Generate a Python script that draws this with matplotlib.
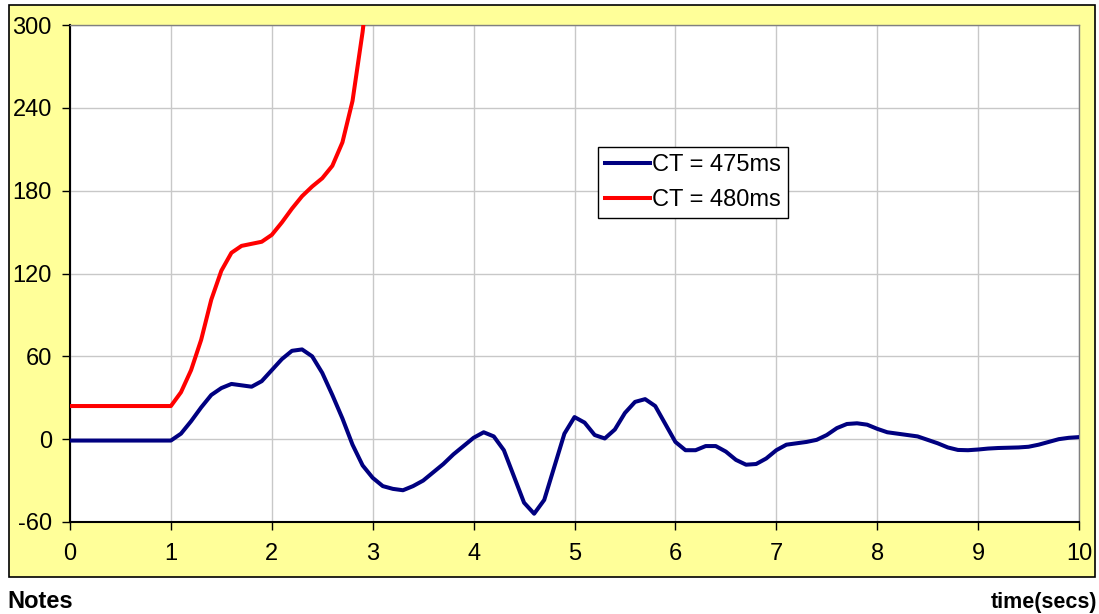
import matplotlib
matplotlib.use("Agg")
import matplotlib.pyplot as plt
from matplotlib.patches import Rectangle
import numpy as np

plt.rcParams['font.family'] = ['Liberation Sans', 'DejaVu Sans']
plt.rcParams['axes.unicode_minus'] = False

# time axis, 0.1 s steps
t = np.round(np.arange(0, 10.01, 0.1), 1)

# CT = 475ms (stable)
ct475 = [-1, -1, -1, -1, -1, -1, -1, -1, -1, -1, -1,
         4, 13, 23, 32, 37, 40, 39, 38, 42, 50,
         58, 64, 65, 60, 48, 32, 15, -4, -19, -28,
         -34, -36, -37, -34, -30, -24, -18, -11, -5, 1,
         5, 2, -8, -27, -46, -54, -44, -20, 4, 16,
         12, 3, 0.5, 7, 19, 27, 29, 24, 11, -2,
         -8, -8, -5, -5, -9, -15, -18.5, -18, -14, -8,
         -4, -3, -2, -0.5, 3, 8, 11, 11.5, 10.5, 7.5,
         5, 4, 3, 2, -0.5, -3, -6, -7.8, -8, -7.5,
         -6.8, -6.4, -6.2, -6, -5.5, -4, -2, 0, 1, 1.5]

# CT = 480ms (unstable, runs off the top)
t480 = t[:31]
ct480 = [24, 24, 24, 24, 24, 24, 24, 24, 24, 24, 24,
         34, 50, 72, 101, 122, 135, 140, 141.5, 143, 148,
         157, 167, 176, 183, 189, 198, 215, 245, 295, 360]

xticks = list(range(0, 11))
yticks = [-60, 0, 60, 120, 180, 240, 300]

fig = plt.figure(figsize=(10.99, 6.14), dpi=100)
fig.patch.set_facecolor('white')
fig.patches.append(Rectangle((9 / 1099, 1 - 577 / 614), 1086 / 1099, 572 / 614,
                             transform=fig.transFigure, facecolor='#FFFF99',
                             edgecolor='black', linewidth=1.2, zorder=-10))

ax = fig.add_axes([70 / 1099, 1 - 522 / 614, 1009 / 1099, 497 / 614])
ax.set_zorder(1)
ax.set_facecolor('white')
ax.plot(t, ct475, color='#000080', lw=2.9, label='CT = 475ms', zorder=3)
ax.plot(t480, ct480, color='#FF0000', lw=2.9, label='CT = 480ms', zorder=3)

ax.set_xlim(0, 10)
ax.set_ylim(-60, 300)
ax.set_xticks(xticks)
ax.set_yticks(yticks)
ax.grid(True, color='#C8C8C8', lw=1)
ax.set_axisbelow(True)

for s in ['left', 'bottom']:
    ax.spines[s].set_color('black')
    ax.spines[s].set_linewidth(1.5)
for s in ['top', 'right']:
    ax.spines[s].set_color('#808080')
    ax.spines[s].set_linewidth(1)

ax.tick_params(axis='both', direction='out', length=6, width=1, labelsize=17,
               colors='black')
ax.tick_params(axis='y', pad=7)
ax.tick_params(axis='x', pad=9)

leg = ax.legend(loc='upper left', bbox_to_anchor=(0.523, 0.7545), borderaxespad=0,
                fontsize=17, fancybox=False, framealpha=1, edgecolor='black',
                handlelength=1.9, handletextpad=0.12, borderpad=0.3,
                labelspacing=0.55)
leg.get_frame().set_linewidth(1)

fig.text(7 / 1099, 1 - 608 / 614, 'Notes', fontsize=17, fontweight='bold',
         ha='left', va='baseline')
fig.text(1097 / 1099, 1 - 608 / 614, 'time(secs)', fontsize=15.5, fontweight='bold',
         ha='right', va='baseline')

fig.savefig('out.png', dpi=100, facecolor=fig.get_facecolor())
